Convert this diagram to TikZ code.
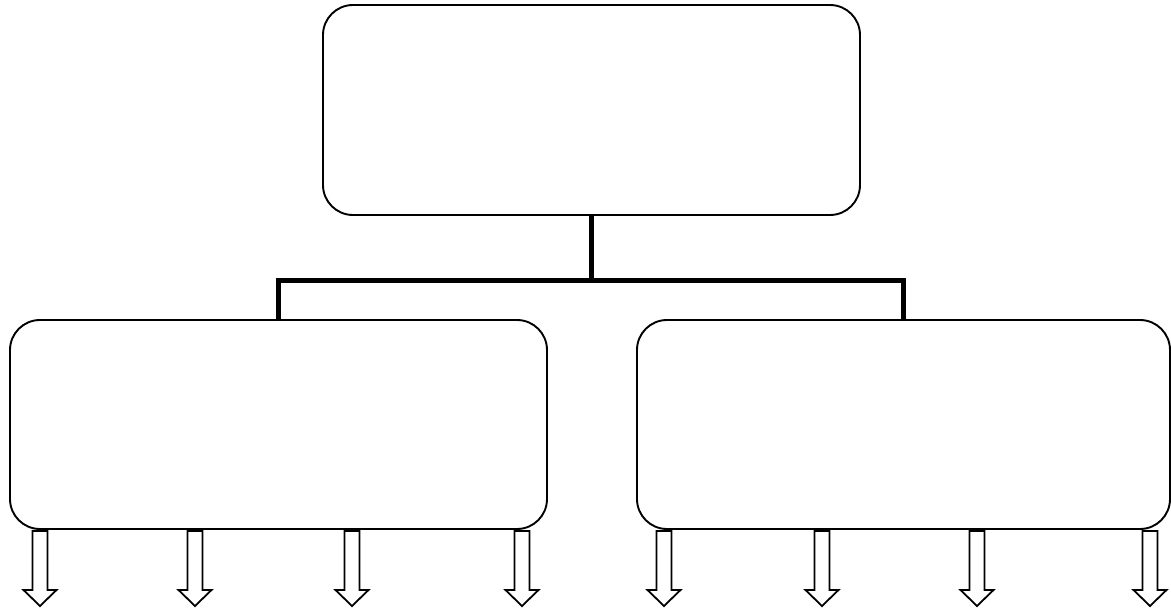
\documentclass[tikz,border=0pt]{standalone}
\usetikzlibrary{calc}
\tikzset{
  box/.style={draw=black, line width=1.9pt, rounded corners=30pt, rectangle, inner sep=0pt, fill=white},
  connector/.style={draw=black, line width=5pt, line join=miter},
  arrowline/.style={draw=black, line width=1.8pt, fill=white, line join=miter},
  pics/blockarrow/.style={code={
    \draw[arrowline] (-7.5,0) -- (-7.5,59) -- (-16.5,59) -- (0,75) -- (16.5,59) -- (7.5,59) -- (7.5,0) -- cycle;
  }}
}
\begin{document}
\begin{tikzpicture}[x=1pt,y=-1pt]
\useasboundingbox (0,0) rectangle (1171,610);
\node[box, minimum width=537pt, minimum height=210pt] (top) at (591.5,110) {};
\node[box, minimum width=537pt, minimum height=209pt] (left) at (278.5,424.5) {};
\node[box, minimum width=533pt, minimum height=209pt] (right) at (903.5,424.5) {};
\coordinate (mid) at ($(top.south)+(0,65)$);
\draw[connector] (top.south) -- (mid);
\draw[connector] (left.north) |- (mid) -| (right.north);
\foreach \x/\n in {40/a1,195/a2,352/a3,522/a4}{
  \coordinate (\n) at (\x,531);
  \pic at (\n) {blockarrow};
}
\foreach \x/\n in {664/b1,822/b2,977/b3,1150/b4}{
  \coordinate (\n) at (\x,531);
  \pic at (\n) {blockarrow};
}
\end{tikzpicture}
\end{document}
